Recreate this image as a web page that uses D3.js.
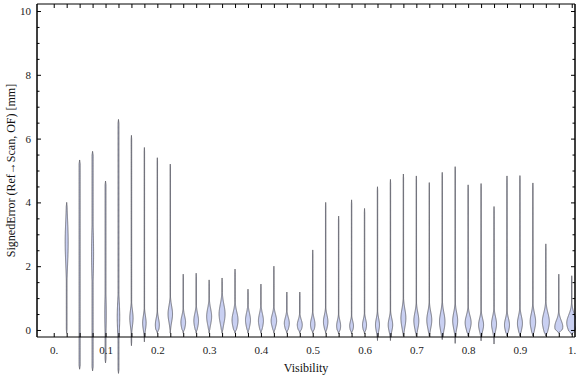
<!DOCTYPE html>
<html>
<head>
<meta charset="utf-8">
<script src="https://cdn.jsdelivr.net/npm/d3@7"></script>
<style>
  html, body { margin: 0; padding: 0; background: #fff; }
  svg { display: block; }
  text { font-family: "Liberation Serif", "DejaVu Serif", serif; }
</style>
</head>
<body>
<svg id="chart" width="576" height="377"></svg>
<script>
// ---- data ----
const visibility = [0.025,0.05,0.075,0.1,0.125,0.15,0.175,0.2,0.225,0.25,
                    0.275,0.3,0.325,0.35,0.375,0.4,0.425,0.45,0.475,0.5,
                    0.525,0.55,0.575,0.6,0.625,0.65,0.675,0.7,0.725,0.75,
                    0.775,0.8,0.825,0.85,0.875,0.9,0.925,0.95,0.975,1.0];
// minimum and maximum signed error per bin [mm]
const minErr = [-0.1,-1.23,-1.28,-1.03,-1.36,-0.49,-0.37,-0.1,-0.1,-0.1,
                -0.1,-0.1,-0.1,-0.1,-0.1,-0.1,-0.1,-0.1,-0.1,-0.1,
                -0.1,-0.12,-0.12,-0.12,-0.33,-0.33,-0.19,-0.19,-0.19,-0.3,
                -0.42,-0.19,-0.34,-0.44,-0.19,-0.19,-0.19,-0.19,-0.1,-0.15];
const maxErr = [4.0,5.33,5.6,4.67,6.6,6.1,5.72,5.4,5.2,1.75,
                1.78,1.57,1.63,1.91,1.28,1.44,2.0,1.19,1.19,2.51,
                4.0,3.57,4.08,3.81,4.49,4.72,4.89,4.83,4.62,4.94,
                5.12,4.55,4.59,3.87,4.83,4.84,4.61,2.7,1.75,1.7];
// location of the density peak [mm]
const modeErr = [2.75,2.0,2.4,0.5,0.4,0.37,0.22,0.16,0.5,0.24,
                 0.29,0.42,0.5,0.31,0.31,0.29,0.29,0.21,0.16,0.18,
                 0.26,0.13,0.13,0.16,0.16,0.16,0.37,0.29,0.31,0.26,
                 0.29,0.23,0.16,0.19,0.16,0.21,0.26,0.26,0.1,0.22];
// spread of the density peak [mm]
const spreadErr = [0.7,1.5,0.8,0.6,0.5,0.25,0.22,0.2,0.25,0.2,
                   0.22,0.25,0.3,0.25,0.22,0.22,0.2,0.18,0.16,0.18,
                   0.2,0.17,0.15,0.17,0.2,0.2,0.28,0.25,0.25,0.28,
                   0.25,0.22,0.2,0.22,0.2,0.22,0.25,0.27,0.2,0.25];
// relative peak density
const peakDensity = [0.3,0.1,0.2,0.15,0.25,0.33,0.35,0.4,0.45,0.47,
                     0.47,0.5,0.6,0.6,0.5,0.5,0.55,0.5,0.5,0.45,
                     0.45,0.4,0.38,0.4,0.4,0.45,0.5,0.5,0.5,0.55,
                     0.5,0.6,0.5,0.5,0.5,0.5,0.55,0.7,0.8,1.0];
// relative density of the long tail
const tailDensity = [0.07,0.11,0.11,0.09,0.09,0.05,0.04,0.04,0.04,0.04,
                     0.04,0.04,0.04,0.04,0.04,0.04,0.04,0.04,0.04,0.04,
                     0.04,0.04,0.04,0.04,0.04,0.04,0.04,0.04,0.04,0.04,
                     0.04,0.04,0.04,0.04,0.04,0.04,0.04,0.04,0.04,0.04];

const xTickValues = d3.range(0, 41).map(i => +(i * 0.025).toFixed(3));
const xLabelValues = [0,0.1,0.2,0.3,0.4,0.5,0.6,0.7,0.8,0.9,1.0];
const xLabels = ["0.","0.1","0.2","0.3","0.4","0.5","0.6","0.7","0.8","0.9","1."];
const yMajor = [0,2,4,6,8,10];
const yMajorLabels = ["0","2","4","6","8","10"];
const yMinor = d3.range(0, 21).map(i => i * 0.5).filter(v => v % 2 !== 0);

// ---- layout ----
const svg = d3.select("#chart");
const mLeft = 37, mRight = 575, mTop = 4, mBottom = 337;
const x = d3.scaleLinear().domain([-0.0323, 1.0063]).range([mLeft, mRight]);
const y = d3.scaleLinear().domain([-0.22, 10.22]).range([mBottom, mTop]);
const w = d3.scaleLinear().domain([0, 1]).range([0, 5]);

// ---- violins ----
const area = d3.area()
  .y(d => y(d.v))
  .x0(d => d.cx - w(d.dens))
  .x1(d => d.cx + w(d.dens));

const gV = svg.append("g");
visibility.forEach((vis, i) => {
  const lo = minErr[i], hi = maxErr[i];
  const n = 300;
  const taperLen = 0.12;
  const pts = d3.range(n + 1).map(j => {
    const v = lo + (hi - lo) * j / n;
    const g = peakDensity[i] * Math.exp(-0.5 * Math.pow((v - modeErr[i]) / spreadErr[i], 2));
    let dens = Math.max(g, tailDensity[i]);
    const taper = Math.max(0, Math.min(1, (v - lo) / taperLen, (hi - v) / taperLen));
    dens *= taper;
    return { v, dens, cx: x(vis) };
  });
  gV.append("path")
    .attr("d", area(pts))
    .attr("fill", "#c9d0f2")
    .attr("stroke", "#505058")
    .attr("stroke-width", 0.75)
    .attr("stroke-linejoin", "round");
});

// ---- frame & ticks ----
const fmtX = v => {
  const k = xLabelValues.findIndex(t => Math.abs(t - v) < 1e-6);
  return k >= 0 ? xLabels[k] : "";
};
const axB = svg.append("g").attr("transform", `translate(0,${mBottom})`)
  .call(d3.axisBottom(x).tickValues(xTickValues).tickSizeInner(-4).tickSizeOuter(0).tickPadding(9).tickFormat(fmtX));
const axT = svg.append("g").attr("transform", `translate(0,${mTop})`)
  .call(d3.axisTop(x).tickValues(xTickValues).tickSizeInner(-4).tickSizeOuter(0).tickFormat(""));
const axL = svg.append("g").attr("transform", `translate(${mLeft},0)`)
  .call(d3.axisLeft(y).tickValues(yMajor).tickSizeInner(-4).tickSizeOuter(0).tickPadding(6)
        .tickFormat((d, i) => yMajorLabels[i]));
const axLm = svg.append("g").attr("transform", `translate(${mLeft},0)`)
  .call(d3.axisLeft(y).tickValues(yMinor).tickSizeInner(-2.5).tickSizeOuter(0).tickFormat(""));
const axR = svg.append("g").attr("transform", `translate(${mRight},0)`)
  .call(d3.axisRight(y).tickValues(yMajor).tickSizeInner(-4).tickSizeOuter(0).tickFormat(""));
const axRm = svg.append("g").attr("transform", `translate(${mRight},0)`)
  .call(d3.axisRight(y).tickValues(yMinor).tickSizeInner(-2.5).tickSizeOuter(0).tickFormat(""));

[axB, axT].forEach(a => a.select(".domain").attr("d", `M${mLeft},0H${mRight}`));
[axL, axLm, axR, axRm].forEach(a => a.select(".domain").attr("d", `M0,${mTop}V${mBottom}`));

svg.selectAll(".domain").attr("stroke", "#000").attr("stroke-width", 1);
svg.selectAll(".tick line").attr("stroke", "#000").attr("stroke-width", 1);
svg.selectAll(".tick text")
  .attr("font-family", "Liberation Serif, serif")
  .attr("font-size", 11)
  .attr("fill", "#222");

// ---- axis titles ----
svg.append("text")
  .attr("x", (mLeft + mRight) / 2).attr("y", 372)
  .attr("text-anchor", "middle")
  .attr("font-size", 12).attr("fill", "#111")
  .text("Visibility");
svg.append("text")
  .attr("transform", `translate(12,${(mTop + mBottom) / 2}) rotate(-90)`)
  .attr("text-anchor", "middle").attr("dominant-baseline", "middle")
  .attr("font-size", 12).attr("fill", "#111")
  .text("SignedError (Ref\u2192Scan, OF) [mm]");
</script>
</body>
</html>
